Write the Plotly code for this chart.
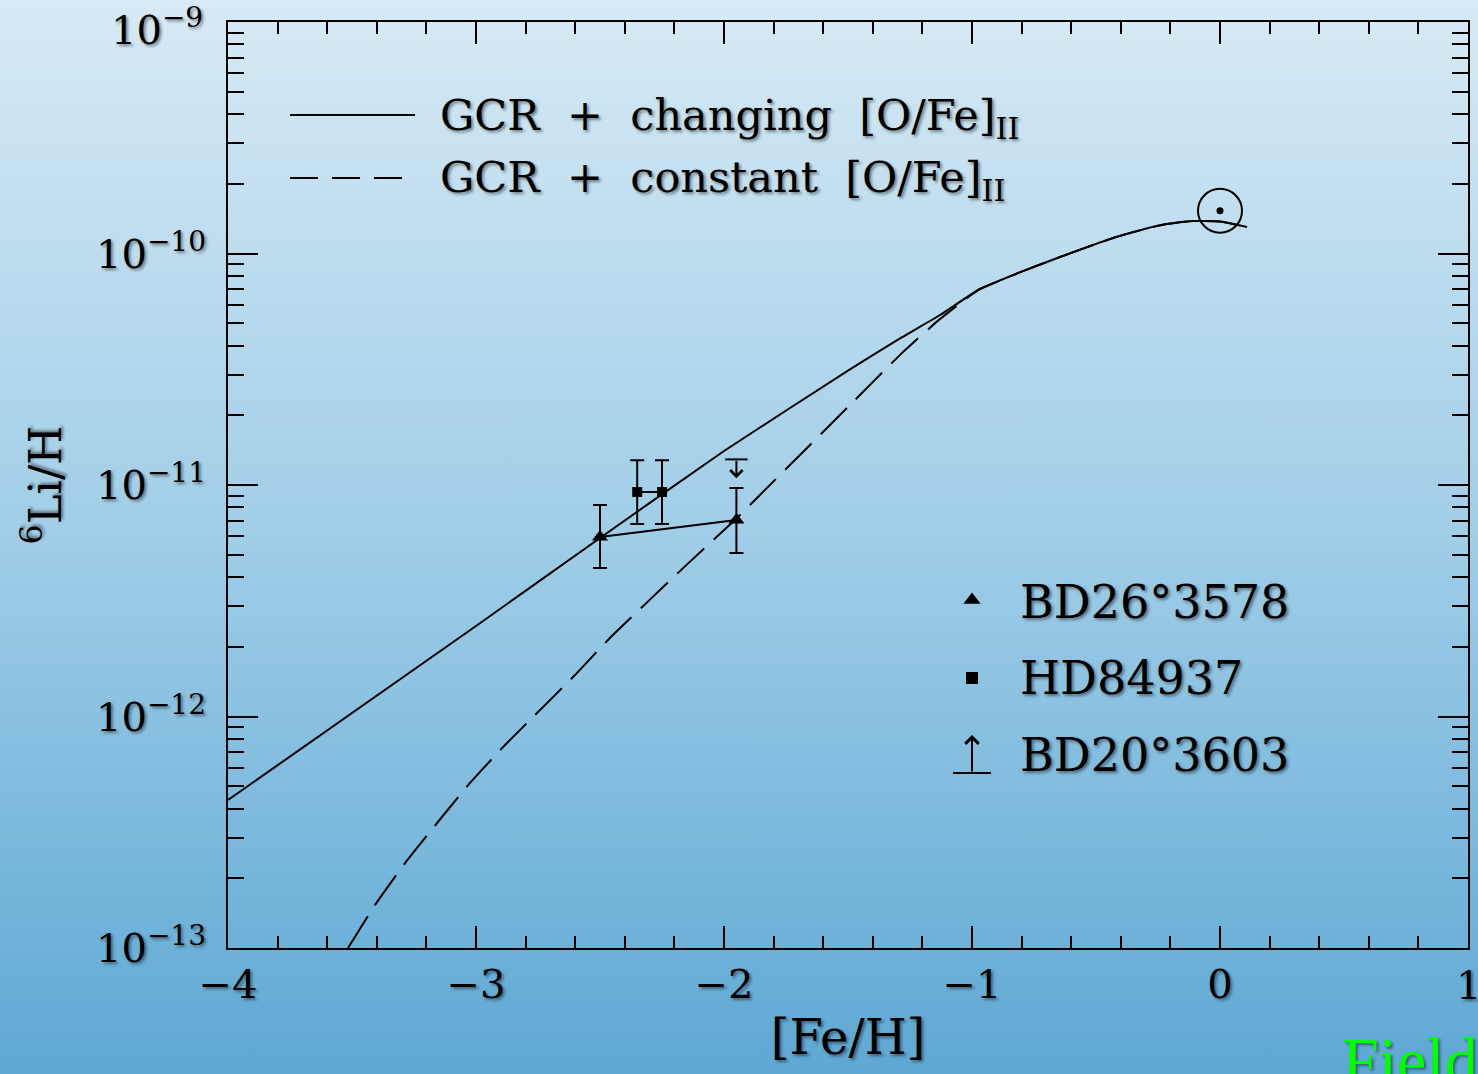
import base64, math
import plotly.graph_objects as go

# ---------------- data ----------------
solid_x = [-4.0, -3.0, -2.5, -2.0, -1.5, -1.29, -1.129, -0.968, -0.8, -0.645, -0.431, -0.3, -0.214, -0.109, 0.0, 0.109]
solid_y = [4.358e-13, 2.460e-12, 5.904e-12, 1.403e-11, 3.117e-11, 4.30e-11, 5.424e-11, 7.025e-11,
           8.35e-11, 9.658e-11, 1.167e-10, 1.28e-10, 1.34e-10, 1.382e-10, 1.375e-10, 1.302e-10]

dash_x = [-3.516, -3.407, -3.286, -3.157, -3.024, -2.891, -2.75, -2.601, -2.46, -2.165, -1.956, -1.867,
          -1.5, -1.29, -1.137, -1.0, -0.968, -0.8, -0.645, -0.431, -0.3, -0.214, -0.109, 0.0, 0.109]
dash_y = [1.0e-13, 1.535e-13, 2.328e-13, 3.467e-13, 5.164e-13, 7.379e-13, 1.045e-12, 1.510e-12,
          2.183e-12, 4.375e-12, 7.063e-12, 8.790e-12, 2.173e-11, 3.648e-11, 5.129e-11, 6.67e-11,
          7.025e-11, 8.35e-11, 9.658e-11, 1.167e-10, 1.28e-10, 1.34e-10, 1.382e-10, 1.375e-10, 1.302e-10]

bd26_x = [-2.5, -1.95]
bd26_y = [5.96e-12, 7.06e-12]
bd26_err_plus = [2.24e-12, 2.64e-12]
bd26_err_minus = [1.58e-12, 1.98e-12]

hd_x = [-2.35, -2.25]
hd_y = [9.33e-12, 9.33e-12]
hd_err_plus = [3.47e-12, 3.47e-12]
hd_err_minus = [2.54e-12, 2.54e-12]

bd20_x = [-1.95]
bd20_limit = [1.29e-11]
bd20_tip = [1.07e-11]

sun_x = [0.0]
sun_y = [1.53e-10]

x_ticks = [-4, -3, -2, -1, 0, 1]
y_exponents = [-13, -12, -11, -10, -9]
y_ticktext = ["10<sup>\u2212%d</sup>" % (-e) for e in y_exponents]

legend_top = ["GCR &nbsp;+ &nbsp;changing &nbsp;[O/Fe]<sub>II</sub>",
              "GCR &nbsp;+ &nbsp;constant &nbsp;[O/Fe]<sub>II</sub>"]
legend_low = ["BD26\u00b03578", "HD84937", "BD20\u00b03603"]

# ---------------- style ----------------
FONT = "DejaVu Serif"
SHADOW = "2px 2px 3px rgba(0,0,0,0.45)"
W, H = 1478, 1074
L, R, T, B = 228, 10, 22, 126
PW, PH = W - L - R, H - T - B
DASH = "37px,13px"
TICKFONT = dict(family=FONT, size=40, color="black", shadow=SHADOW)


def px(xp):
    return (xp - L) / PW


def py(yp):
    return (H - B - yp) / PH


fig = go.Figure()

fig.add_trace(go.Scatter(x=solid_x, y=solid_y, mode="lines", line_shape="spline",
                         line=dict(color="black", width=2, smoothing=0.4), showlegend=False))
fig.add_trace(go.Scatter(x=dash_x, y=dash_y, mode="lines", line_shape="spline",
                         line=dict(color="black", width=2, dash=DASH, smoothing=0.4), showlegend=False))

fig.add_trace(go.Scatter(x=bd26_x, y=bd26_y, mode="lines+markers",
                         line=dict(color="black", width=2),
                         marker=dict(symbol="triangle-up", size=14, color="black"),
                         error_y=dict(type="data", symmetric=False, array=bd26_err_plus,
                                      arrayminus=bd26_err_minus, color="black", thickness=2, width=7),
                         showlegend=False))
fig.add_trace(go.Scatter(x=hd_x, y=hd_y, mode="lines+markers",
                         line=dict(color="black", width=2),
                         marker=dict(symbol="square", size=10, color="black"),
                         error_y=dict(type="data", symmetric=False, array=hd_err_plus,
                                      arrayminus=hd_err_minus, color="black", thickness=2, width=7),
                         showlegend=False))
fig.add_trace(go.Scatter(x=bd20_x, y=bd20_limit, mode="markers",
                         marker=dict(symbol="line-ew", size=16, color="black",
                                     line=dict(color="black", width=2)),
                         showlegend=False))
fig.add_annotation(x=bd20_x[0], y=math.log10(bd20_tip[0]), ax=bd20_x[0], ay=math.log10(bd20_limit[0]),
                   xref="x", yref="y", axref="x", ayref="y", text="", showarrow=True,
                   arrowhead=4, arrowsize=1.2, arrowwidth=2, arrowcolor="black")

fig.add_trace(go.Scatter(x=sun_x, y=sun_y, mode="markers",
                         marker=dict(symbol="circle-open", size=44, color="black",
                                     line=dict(color="black", width=2)),
                         showlegend=False))
fig.add_trace(go.Scatter(x=sun_x, y=sun_y, mode="markers",
                         marker=dict(symbol="circle", size=7, color="black"), showlegend=False))

# ---------------- legends (overlay axes 0..1) ----------------
fig.add_trace(go.Scatter(x=[px(972)], y=[py(600)], xaxis="x2", yaxis="y2", mode="markers",
                         marker=dict(symbol="triangle-up", size=15, color="black"), showlegend=False))
fig.add_trace(go.Scatter(x=[px(972)], y=[py(678)], xaxis="x2", yaxis="y2", mode="markers",
                         marker=dict(symbol="square", size=12, color="black"), showlegend=False))

shapes = [
    dict(type="line", xref="paper", yref="paper", x0=px(290), x1=px(415), y0=py(115), y1=py(115),
         line=dict(color="black", width=2)),
    dict(type="line", xref="paper", yref="paper", x0=px(290), x1=px(415), y0=py(178), y1=py(178),
         line=dict(color="black", width=2, dash="28px,14px")),
    dict(type="line", xref="paper", yref="paper", x0=px(953), x1=px(991), y0=py(773), y1=py(773),
         line=dict(color="black", width=2)),
]

for txt, yc in zip(legend_top, [118, 180]):
    fig.add_annotation(x=px(438), y=py(yc), xref="paper", yref="paper", text=txt, showarrow=False,
                       xanchor="left", yanchor="middle",
                       font=dict(family=FONT, size=43, color="black", shadow=SHADOW))
for txt, yc in zip(legend_low, [602, 678, 755]):
    fig.add_annotation(x=px(1018), y=py(yc), xref="paper", yref="paper", text=txt, showarrow=False,
                       xanchor="left", yanchor="middle",
                       font=dict(family=FONT, size=46, color="black", shadow=SHADOW))
fig.add_annotation(x=px(972), y=py(735), xref="paper", yref="paper", ax=0, ay=38, text="",
                   showarrow=True, arrowhead=4, arrowsize=1.3, arrowwidth=2, arrowcolor="black")

# edge tick labels that Plotly would hide at the page border
fig.add_annotation(x=1, y=py(985), xref="paper", yref="paper", text=str(x_ticks[-1]), showarrow=False,
                   xanchor="center", yanchor="middle", font=TICKFONT)
fig.add_annotation(x=px(205), y=py(27), xref="paper", yref="paper", text=y_ticktext[-1], showarrow=False,
                   xanchor="right", yanchor="middle", font=TICKFONT)

fig.add_annotation(x=px(1340), y=py(1022), xref="paper", yref="paper", text="Fields",
                   showarrow=False, xanchor="left", yanchor="top",
                   font=dict(family="Liberation Serif", size=66, color="#00ff00"))

# ---------------- background gradient ----------------
svg = ('<svg xmlns="http://www.w3.org/2000/svg" width="100" height="100" preserveAspectRatio="none">'
       '<defs><linearGradient id="g" x1="0" y1="0" x2="0" y2="1">'
       '<stop offset="0" stop-color="#d7eaf5"/><stop offset="0.5" stop-color="#a0cde7"/>'
       '<stop offset="1" stop-color="#5ea8d4"/></linearGradient></defs>'
       '<rect width="100" height="100" fill="url(#g)"/></svg>')
src = "data:image/svg+xml;base64," + base64.b64encode(svg.encode()).decode()

minor_y = [k * 10.0 ** e for e in range(-13, -9) for k in range(2, 10)]

fig.update_layout(
    width=W, height=H,
    margin=dict(l=L, r=R, t=T, b=B, autoexpand=False),
    paper_bgcolor="rgba(0,0,0,0)", plot_bgcolor="rgba(0,0,0,0)",
    font=dict(family=FONT, color="black", size=40, shadow=SHADOW),
    showlegend=False,
    shapes=shapes,
    images=[dict(source=src, xref="paper", yref="paper", x=-L / PW, y=1 + T / PH,
                 sizex=W / PW, sizey=H / PH, sizing="stretch", layer="below",
                 xanchor="left", yanchor="top")],
    xaxis=dict(range=[-4, 1], tickvals=x_ticks, ticks="inside", ticklen=22, tickwidth=2,
               tickcolor="black", showline=True, linecolor="black", linewidth=2, mirror="allticks",
               showgrid=False, zeroline=False, automargin=False,
               tickfont=TICKFONT,
               minor=dict(dtick=0.2, ticks="inside", ticklen=12, tickwidth=2, tickcolor="black",
                          showgrid=False),
               title=dict(text="[Fe/H]", font=dict(family=FONT, size=48, color="black", shadow=SHADOW),
                          standoff=14)),
    yaxis=dict(type="log", range=[-13, -9], tickvals=[10.0 ** e for e in y_exponents],
               ticktext=y_ticktext, ticks="inside", ticklen=30, tickwidth=2, tickcolor="black",
               showline=True, linecolor="black", linewidth=2, mirror="allticks",
               showgrid=False, zeroline=False, automargin=False, ticklabelstandoff=12,
               tickfont=TICKFONT,
               minor=dict(tickvals=minor_y, ticks="inside", ticklen=16, tickwidth=2, tickcolor="black",
                          showgrid=False),
               title=dict(text="<sup>6</sup>Li/H", font=dict(family=FONT, size=45, color="black",
                                                             shadow=SHADOW), standoff=20)),
    xaxis2=dict(range=[0, 1], overlaying="x", visible=False, fixedrange=True),
    yaxis2=dict(range=[0, 1], overlaying="y", visible=False, fixedrange=True),
)

fig.write_html("out.html")
